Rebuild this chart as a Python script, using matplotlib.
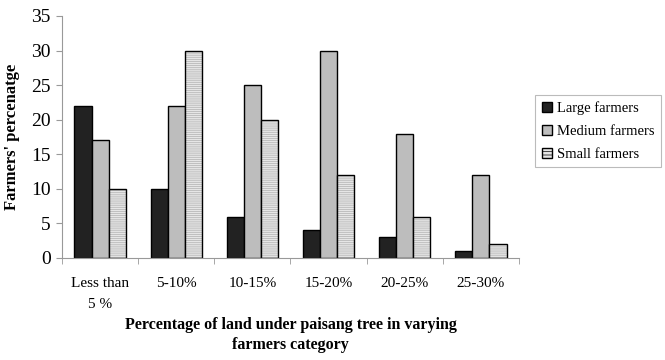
import numpy as np
import matplotlib.pyplot as plt
from matplotlib.patches import Patch

categories = ["Less than\n5 %", "5-10%", "10-15%", "15-20%", "20-25%", "25-30%"]
large = [22, 10, 6, 4, 3, 1]
medium = [17, 22, 25, 30, 18, 12]
small = [10, 30, 20, 12, 6, 2]

plt.rcParams['font.family'] = ['Liberation Serif', 'DejaVu Serif']
plt.rcParams['hatch.linewidth'] = 0.5

fig = plt.figure(figsize=(6.65, 3.6), dpi=100)
ax = fig.add_axes([62 / 665, 1 - 258 / 360, 457 / 665, 242 / 360])

x = np.arange(len(categories))
w = 0.225

ax.bar(x - w, large, w, color='#222222', edgecolor='black', linewidth=1.0)
ax.bar(x, medium, w, color='#bdbdbd', edgecolor='black', linewidth=1.0)
# hatched fill first, then a plain black outline on top
ax.bar(x + w, small, w, color='#e6e6e6', edgecolor='#b0b0b0', hatch='--------', linewidth=0)
ax.bar(x + w, small, w, fill=False, edgecolor='black', linewidth=1.0)

ax.set_xlim(-0.5, len(categories) - 0.5)
ax.set_ylim(0, 35)
ax.set_yticks(range(0, 36, 5))
ax.set_xticks(x)
ax.set_xticklabels(categories, fontsize=11, linespacing=1.8)
ax.set_xticks(np.arange(-0.5, len(categories), 1), minor=True)
ax.tick_params(axis='x', which='major', length=0, pad=14)
ax.tick_params(axis='x', which='minor', length=4, color='#999999')
ax.tick_params(axis='y', length=4, color='#999999', labelsize=14, pad=4)

for s in ['top', 'right']:
    ax.spines[s].set_visible(False)
for s in ['left', 'bottom']:
    ax.spines[s].set_color('#999999')

ax.set_ylabel("Farmers' percenatge", fontsize=12, fontweight='bold', labelpad=8)
ax.set_xlabel("Percentage of land under paisang tree in varying\nfarmers category",
              fontsize=11.5, fontweight='bold', labelpad=4, linespacing=1.3)

handles = [Patch(facecolor='#222222', edgecolor='black'),
           Patch(facecolor='#bdbdbd', edgecolor='black'),
           Patch(facecolor='#e6e6e6', edgecolor='black', hatch='-----')]
leg = fig.legend(handles, ["Large farmers", "Medium farmers", "Small farmers"],
                 loc='upper left', bbox_to_anchor=(535 / 665, 1 - 95 / 360),
                 fontsize=10.5, frameon=True, fancybox=False, handlelength=0.7,
                 handleheight=0.7, handletextpad=0.35, borderpad=0.45,
                 borderaxespad=0, labelspacing=0.65)
leg.get_frame().set_edgecolor('#aaaaaa')
leg.get_frame().set_linewidth(0.8)

fig.savefig('out.png', dpi=100)
